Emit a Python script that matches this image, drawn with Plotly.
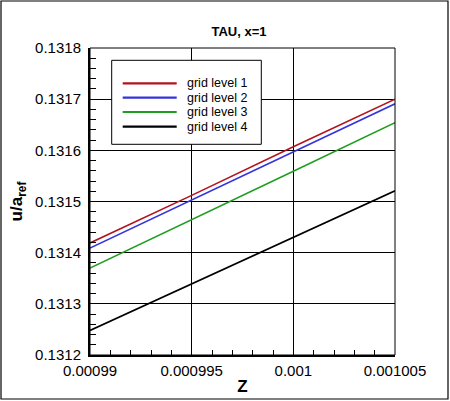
import plotly.graph_objects as go

# z positions (ends and major grid lines)
z = [0.00099, 0.000995, 0.001, 0.001005]

# u/a_ref for each grid level
level1 = [0.131419, 0.131512, 0.131607, 0.131700]
level2 = [0.131409, 0.131503, 0.131597, 0.131691]
level3 = [0.131370, 0.131464, 0.131559, 0.131654]
level4 = [0.131248, 0.131339, 0.131430, 0.131521]

names = ["grid level 1", "grid level 2", "grid level 3", "grid level 4"]
colors = ["#b3121c", "#3434dc", "#1f9e1f", "#000000"]

xticks = [0.00099, 0.000995, 0.001, 0.001005]
xticktext = ["0.00099", "0.000995", "0.001", "0.001005"]
yticks = [0.1312, 0.1313, 0.1314, 0.1315, 0.1316, 0.1317, 0.1318]

W, H = 450, 401
L, R, T, B = 90, 55, 48, 46
pw, ph = W - L - R, H - T - B


def px(x):
    return (x - L) / pw


def py(y):
    return (H - B - y) / ph


fig = go.Figure()
for ys, name, c in zip([level1, level2, level3, level4], names, colors):
    fig.add_trace(go.Scatter(x=z, y=ys, mode="lines", name=name,
                             line=dict(color=c, width=1.6), showlegend=False))

# legend box, drawn by hand so the line samples are as long as in the original
fig.add_shape(type="rect", xref="paper", yref="paper",
              x0=px(111.7), x1=px(261.3), y0=py(144.3), y1=py(60.3),
              line=dict(color="black", width=1), fillcolor="white", layer="above")
rows = [83.3, 97.7, 112.0, 126.7]
for r, name, c in zip(rows, names, colors):
    fig.add_shape(type="line", xref="paper", yref="paper",
                  x0=px(122.7), x1=px(176.7), y0=py(r), y1=py(r),
                  line=dict(color=c, width=2.2), layer="above")
    fig.add_annotation(text=name, xref="paper", yref="paper", x=px(185),
                       y=py(r), xanchor="left", yanchor="middle", showarrow=False,
                       font=dict(family="Arial", size=12.5, color="black"))

# thin frame on top/right, outer border round the whole picture
fig.add_shape(type="rect", xref="paper", yref="paper", x0=0, x1=1, y0=0, y1=1,
              line=dict(color="black", width=1), layer="above")
fig.add_shape(type="rect", xref="paper", yref="paper",
              x0=px(1), x1=px(448), y0=py(399), y1=py(1),
              line=dict(color="black", width=1.2), layer="above")

fig.update_layout(
    width=W, height=H,
    margin=dict(l=L, r=R, t=T, b=B),
    paper_bgcolor="white", plot_bgcolor="white",
    font=dict(family="Arial", color="black"),
    title=dict(text="<b>TAU, x=1</b>", x=px(239), xref="paper",
               y=1 - 31.7 / H, yref="container", xanchor="center", yanchor="middle",
               font=dict(size=13)),
)
fig.update_xaxes(
    range=[0.00099, 0.001005], tickvals=xticks, ticktext=xticktext, automargin=False,
    tickfont=dict(size=15), showline=True, linewidth=2, linecolor="black",
    showgrid=True, gridcolor="black", gridwidth=1, zeroline=False,
    ticks="inside", ticklen=9, tickwidth=1, tickcolor="black", ticklabelstandoff=1,
    minor=dict(dtick=0.000001, ticks="inside", ticklen=5, tickcolor="black", showgrid=False),
    title=dict(text="<b>Z</b>", font=dict(size=17), standoff=2),
)
fig.update_yaxes(
    range=[0.1312, 0.1318], tickvals=yticks, tickformat=".4f", automargin=False,
    tickfont=dict(size=15), showline=True, linewidth=2, linecolor="black",
    showgrid=True, gridcolor="black", gridwidth=1, zeroline=False,
    ticks="inside", ticklen=9, tickwidth=1, tickcolor="black", ticklabelstandoff=4,
    minor=dict(dtick=0.00002, ticks="inside", ticklen=6, tickcolor="black", showgrid=False),
    title=dict(text="<b>u/a<sub>ref</sub></b>", font=dict(size=17), standoff=8),
)

# drop the page's default body margin so the figure sits at the window's corner
fig.write_html("out.html", config={"displayModeBar": False},
               post_script="document.body.style.margin='0';")
